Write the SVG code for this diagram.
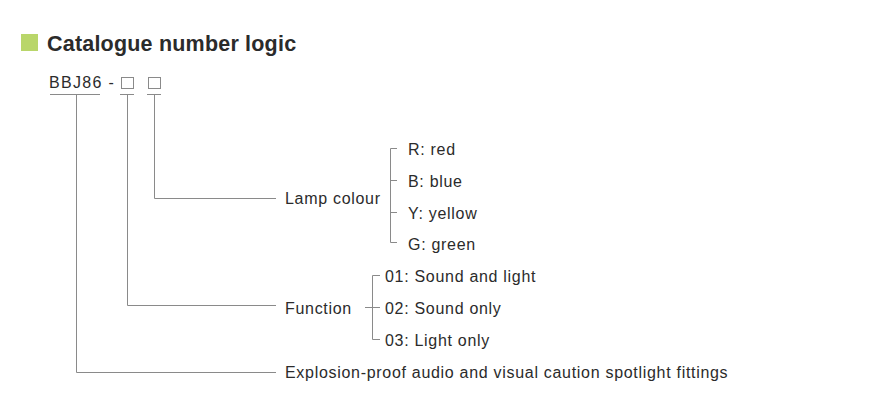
<svg xmlns="http://www.w3.org/2000/svg" width="896" height="403" viewBox="0 0 896 403">
<style>
text{font-family:"Liberation Sans",Arial,sans-serif;fill:#2b2b2b;font-size:16px;letter-spacing:0.7px}
.t{font-size:21.5px;font-weight:bold;letter-spacing:0.2px}
line,path,rect.b{stroke:#8a8a8a;stroke-width:1;fill:none}
</style>
<rect width="896" height="403" fill="#fff"/>
<g id="title"><rect x="21" y="34" width="17" height="17" fill="#b9d66a"/><text class="t" x="47" y="51">Catalogue number logic</text></g>
<g id="code"><text x="49" y="88" style="letter-spacing:1.3px">BBJ86 -</text>
<rect class="b" x="121.5" y="77.5" width="12" height="11"/><rect class="b" x="148.5" y="77.5" width="12" height="11"/></g>
<g id="lamp"><text x="285" y="204">Lamp colour</text>
<text x="408" y="155">R: red</text><text x="408" y="187">B: blue</text><text x="408" y="219">Y: yellow</text><text x="408" y="250">G: green</text></g>
<g id="function"><text x="285" y="314">Function</text>
<text x="385" y="282">01: Sound and light</text><text x="385" y="314">02: Sound only</text><text x="385" y="346">03: Light only</text></g>
<g id="type"><text x="285" y="378">Explosion-proof audio and visual caution spotlight fittings</text></g>
<g id="connectors">
<line x1="50" y1="94.5" x2="100" y2="94.5"/><line x1="120" y1="94.5" x2="134" y2="94.5"/><line x1="147" y1="94.5" x2="161" y2="94.5"/>
<path d="M154.5 94.5V198.5H276"/>
<path d="M127.5 94.5V305.5H276"/>
<path d="M76.5 94.5V372.5H276"/>
<path d="M397 148.5H390.5V242.5H397M390.5 180.5H397M390.5 212.5H397"/>
<path d="M380 275.5H372.5V339.5H380M365 307.5H380"/>
</g>
</svg>
